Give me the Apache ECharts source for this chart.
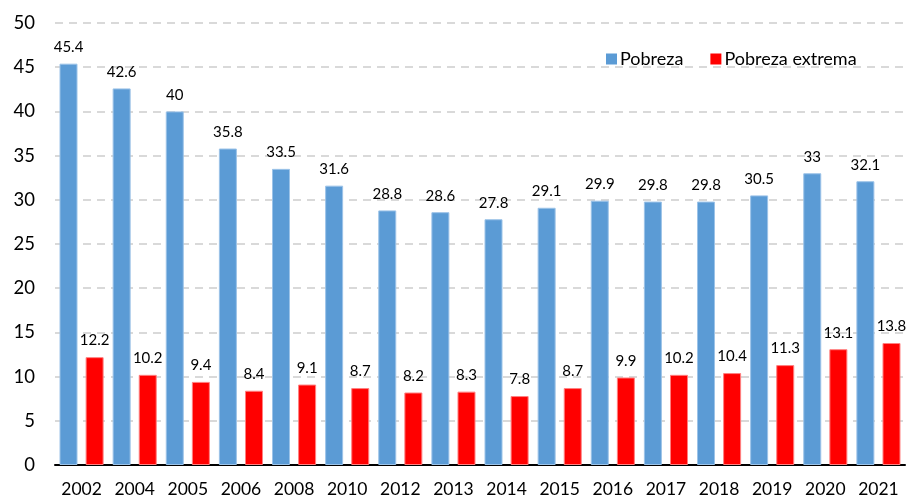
<!DOCTYPE html>
<html>
<head>
<meta charset="utf-8">
<script src="https://cdn.jsdelivr.net/npm/echarts@6/dist/echarts.min.js"></script>
<style>html,body{margin:0;padding:0;background:#fff}#c{width:909px;height:498px}</style>
</head>
<body>
<div id="c"></div>
<script>
const years = ['2002','2004','2005','2006','2008','2010','2012','2013','2014','2015','2016','2017','2018','2019','2020','2021'];
const pobreza = [45.4,42.6,40,35.8,33.5,31.6,28.8,28.6,27.8,29.1,29.9,29.8,29.8,30.5,33,32.1];
const pobrezaExtrema = [12.2,10.2,9.4,8.4,9.1,8.7,8.2,8.3,7.8,8.7,9.9,10.2,10.4,11.3,13.1,13.8];
const seriesNames = ['Pobreza','Pobreza extrema'];

const FONT = 'Lato';
const chart = echarts.init(document.getElementById('c'), null, {renderer:'canvas'});
const labelCfg = {show:true, position:'top', distance:9, color:'#000', fontSize:15, fontFamily:FONT};
chart.setOption({
  animation:false,
  textStyle:{fontFamily:FONT},
  legend:{
    left:601, top:45, itemWidth:11, itemHeight:11, itemGap:27,
    icon:'rect',
    itemStyle:{borderWidth:0},
    textStyle:{fontSize:18, color:'#000', fontFamily:FONT, padding:[0,0,0,-2]},
    data:seriesNames
  },
  grid:{left:55, right:4, top:23, bottom:32, containLabel:false},
  xAxis:{
    type:'category', data:years,
    axisTick:{show:false},
    axisLine:{lineStyle:{color:'#000', width:2}},
    axisLabel:{color:'#000', fontSize:17.5, fontFamily:FONT, margin:15}
  },
  yAxis:{
    type:'value', min:0, max:50, interval:5,
    axisLine:{show:false}, axisTick:{show:false},
    axisLabel:{color:'#000', fontSize:18.5, fontFamily:FONT, margin:20},
    splitLine:{lineStyle:{color:'#d9d9d9', type:[8,6], width:2}}
  },
  series:[
    {name:seriesNames[0], type:'bar', data:pobreza, barWidth:18, barGap:'45%',
     itemStyle:{color:'#5b9bd5', borderColor:'#9cc3e8', borderWidth:1}, label:labelCfg},
    {name:seriesNames[1], type:'bar', data:pobrezaExtrema, barWidth:18,
     itemStyle:{color:'#ff0000', borderColor:'#ff8080', borderWidth:1}, label:labelCfg}
  ]
});
</script>
</body>
</html>
